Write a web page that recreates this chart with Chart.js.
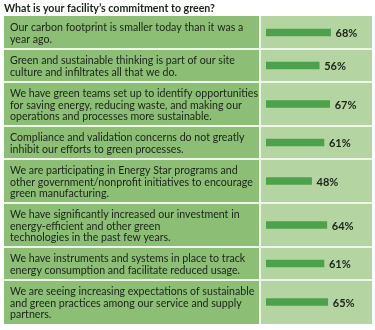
<!DOCTYPE html>
<html>
<head>
<meta charset="utf-8">
<script src="https://cdn.jsdelivr.net/npm/chart.js@4"></script>
<style>
  html, body { margin: 0; padding: 0; background: #ffffff; }
  #wrap { width: 375px; height: 330px; }
</style>
</head>
<body>
<div id="wrap"><canvas id="greenChart" width="375" height="330"></canvas></div>
<script>
const title = "What is your facility\u2019s commitment to green?";

const statements = [
    ["Our carbon footprint is smaller today than it was a", "year ago."],
    ["Green and sustainable thinking is part of our site", "culture and infiltrates all that we do."],
    ["We have green teams set up to identify opportunities", "for saving energy, reducing waste, and making our", "operations and processes more sustainable."],
    ["Compliance and validation concerns do not greatly", "inhibit our efforts to green processes."],
    ["We are participating in Energy Star programs and", "other government/nonprofit initiatives to encourage", "green manufacturing."],
    ["We have significantly increased our investment in", "energy-efficient and other green", "technologies in the past few years."],
    ["We have instruments and systems in place to track", "energy consumption and facilitate reduced usage."],
    ["We are seeing increasing expectations of sustainable", "and green practices among our service and supply", "partners."]
];

const percents = [68, 56, 67, 61, 48, 64, 61, 65];

// row height in px-units derived from the number of text lines
const LINE = 11, ROW_PAD = 11;
const rowTops = [];
let total = 0;
statements.forEach(lines => {
    rowTops.push(total);
    total += lines.length * LINE + ROW_PAD;
});
const rowHeights = statements.map(lines => lines.length * LINE + ROW_PAD);
const points = percents.map((p, i) => ({ x: p, y: rowTops[i] + rowHeights[i] / 2 }));

const TABLE_LEFT = 4, TABLE_RIGHT = 372, COL_SPLIT = 260;
const LEFT_BG = '#8cbe76', RIGHT_BG = '#b4d4a2', SEP = '#eef5e9';
const BODY_FONT = '12px Lato';
const TEXT_COLOR = '#1b2417';

const tablePlugin = {
    id: 'tablePlugin',
    beforeDraw(chart) {
        const ctx = chart.ctx;
        const y = chart.scales.y;
        ctx.save();

        ctx.font = 'bold 12px Lato';
        ctx.fillStyle = TEXT_COLOR;
        ctx.textBaseline = 'middle';
        const tw = ctx.measureText(title).width;
        ctx.translate(TABLE_LEFT, 8);
        ctx.scale(Math.min(1, 211 / tw), 1);
        ctx.fillText(title, 0, 0);
        ctx.setTransform(1, 0, 0, 1, 0, 0);

        const top = y.getPixelForValue(0);
        const bottom = y.getPixelForValue(total);
        ctx.fillStyle = SEP;
        ctx.fillRect(TABLE_LEFT, top, TABLE_RIGHT - TABLE_LEFT, bottom - top);

        ctx.font = BODY_FONT;
        let longest = 0;
        statements.forEach(lines => lines.forEach(l => { longest = Math.max(longest, ctx.measureText(l).width); }));
        const sx = Math.min(1, 248 / longest);

        statements.forEach((lines, i) => {
            const y0 = y.getPixelForValue(rowTops[i]);
            const y1 = y.getPixelForValue(rowTops[i] + rowHeights[i]);
            const t = i === 0 ? y0 : y0 + 1;
            const b = i === statements.length - 1 ? y1 : y1 - 1;
            ctx.fillStyle = LEFT_BG;
            ctx.fillRect(TABLE_LEFT, t, COL_SPLIT - 1 - TABLE_LEFT, b - t);
            ctx.fillStyle = RIGHT_BG;
            ctx.fillRect(COL_SPLIT + 1, t, TABLE_RIGHT - COL_SPLIT - 1, b - t);

            ctx.fillStyle = TEXT_COLOR;
            ctx.textBaseline = 'middle';
            lines.forEach((line, k) => {
                ctx.save();
                ctx.translate(10, y0 + 11.5 + k * 11.5);
                ctx.scale(sx, 1);
                ctx.fillText(line, 0, 0);
                ctx.restore();
            });
        });
        ctx.restore();
    },
    afterDatasetsDraw(chart) {
        const ctx = chart.ctx;
        const meta = chart.getDatasetMeta(0);
        ctx.save();
        ctx.font = 'bold 11px Lato';
        ctx.fillStyle = TEXT_COLOR;
        ctx.textBaseline = 'middle';
        meta.data.forEach((bar, i) => {
            ctx.fillText(percents[i] + '%', bar.x + 5, bar.y + 1);
        });
        ctx.restore();
    }
};

const ctx = document.getElementById('greenChart').getContext('2d');

const greenChart = new Chart(ctx, {
    type: 'bar',
    data: {
        datasets: [
            { label: 'Agree', data: points, backgroundColor: '#4ca24a', borderWidth: 0, barThickness: 7 }
        ]
    },
    options: {
        indexAxis: 'y',
        responsive: false,
        devicePixelRatio: 1,
        animation: false,
        layout: { padding: { left: 266, right: 14, top: 16, bottom: 330 - 16 - total } },
        scales: {
            x: { type: 'linear', min: 0, max: 100, offset: false, display: false },
            y: { type: 'linear', min: 0, max: total, reverse: true, offset: false, display: false }
        },
        plugins: {
            legend: { display: false },
            tooltip: { enabled: false },
            title: { display: false }
        }
    },
    plugins: [tablePlugin]
});
</script>
</body>
</html>
